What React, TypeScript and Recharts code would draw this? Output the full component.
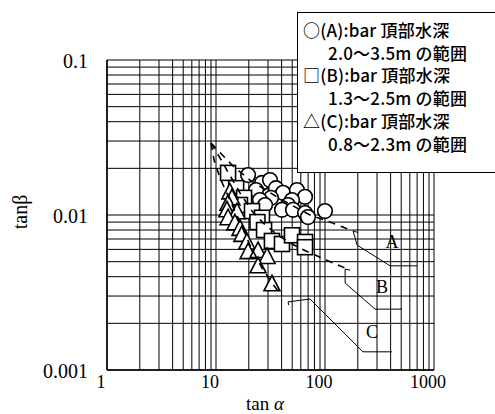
import React from 'react';
import { ComposedChart, XAxis, YAxis, Scatter, ReferenceLine } from 'recharts';

// (A) bar 頂部水深 2.0～3.5m
const seriesA = [
  { x: 19.7, y: 0.0181 }, { x: 26.4, y: 0.0161 }, { x: 31.3, y: 0.0168 }, { x: 23.3, y: 0.0145 },
  { x: 35.5, y: 0.0149 }, { x: 41.2, y: 0.0139 }, { x: 55.3, y: 0.0145 }, { x: 65.6, y: 0.0131 },
  { x: 49.8, y: 0.0125 }, { x: 32.0, y: 0.0129 }, { x: 25.3, y: 0.0125 }, { x: 28.2, y: 0.0116 },
  { x: 45.8, y: 0.0116 }, { x: 40.3, y: 0.0108 }, { x: 50.9, y: 0.0108 }, { x: 65.6, y: 0.0103 },
  { x: 69.8, y: 0.0097 }, { x: 100, y: 0.0106 },
];

// (B) bar 頂部水深 1.3～2.5m
const seriesB = [
  { x: 12.9, y: 0.0187 }, { x: 15.3, y: 0.0149 }, { x: 18.1, y: 0.0129 }, { x: 16.6, y: 0.0116 },
  { x: 21.4, y: 0.0106 }, { x: 26.4, y: 0.0096 }, { x: 24.0, y: 0.0090 }, { x: 27.6, y: 0.0080 },
  { x: 32.6, y: 0.0068 }, { x: 40.3, y: 0.0065 }, { x: 49.8, y: 0.0074 }, { x: 65.6, y: 0.0067 },
  { x: 65.6, y: 0.0062 },
];

// (C) bar 頂部水深 0.8～2.3m
const seriesC = [
  { x: 13.4, y: 0.0141 }, { x: 14.0, y: 0.0129 }, { x: 12.9, y: 0.0119 }, { x: 12.6, y: 0.0108 },
  { x: 15.6, y: 0.0105 }, { x: 12.9, y: 0.0096 }, { x: 14.9, y: 0.0089 }, { x: 16.6, y: 0.0082 },
  { x: 17.3, y: 0.0075 }, { x: 19.2, y: 0.0067 }, { x: 19.7, y: 0.0058 }, { x: 24.3, y: 0.0059 },
  { x: 29.4, y: 0.0054 }, { x: 24.3, y: 0.0047 }, { x: 32.6, y: 0.0036 },
];

// dashed envelope curves
const curveA = [
  { x: 9.0, y: 0.0291 }, { x: 14.3, y: 0.0207 }, { x: 20.5, y: 0.0168 }, { x: 38.7, y: 0.0127 },
  { x: 72.8, y: 0.0100 }, { x: 111, y: 0.0090 }, { x: 181, y: 0.0079 },
];
const curveB = [
  { x: 9.0, y: 0.0291 }, { x: 10.9, y: 0.0233 }, { x: 12.9, y: 0.0189 }, { x: 16.6, y: 0.0139 },
  { x: 21.4, y: 0.0106 }, { x: 27.0, y: 0.0089 }, { x: 37.0, y: 0.0074 }, { x: 49.8, y: 0.0065 },
  { x: 65.5, y: 0.0059 }, { x: 104, y: 0.0051 }, { x: 153, y: 0.00455 },
];
const curveC = [
  { x: 9.0, y: 0.0291 }, { x: 9.6, y: 0.0226 }, { x: 10.9, y: 0.0173 }, { x: 13.4, y: 0.0125 },
  { x: 16.6, y: 0.0090 }, { x: 20.5, y: 0.0064 }, { x: 26.4, y: 0.00455 }, { x: 32.6, y: 0.00364 },
  { x: 40.3, y: 0.0030 },
];

// leader lines to the curve names
const leaderA = [
  { x: 201, y: 0.0077 }, { x: 181, y: 0.0079 }, { x: 197, y: 0.0064 }, { x: 395, y: 0.0047 }, { x: 698, y: 0.0047 },
];
const leaderB = [
  { x: 170, y: 0.00441 }, { x: 153, y: 0.00448 }, { x: 153, y: 0.00364 }, { x: 288, y: 0.00247 }, { x: 509, y: 0.00247 },
];
const leaderC = [
  { x: 46.5, y: 0.00262 }, { x: 45.8, y: 0.00275 }, { x: 72.8, y: 0.00287 }, { x: 223, y: 0.00131 }, { x: 412, y: 0.00131 },
];
const curveNames = [
  { x: 412, y: 0.0067, label: 'A' },
  { x: 333, y: 0.00343, label: 'B' },
  { x: 270, y: 0.00176, label: 'C' },
];

const xTicks = [1, 10, 100, 1000];
const yTicks = [0.001, 0.01, 0.1];
const xGrid = [1, 2, 3, 4, 5, 6, 7, 8, 9, 10, 20, 30, 40, 50, 60, 70, 80, 90, 100, 200, 300, 400, 500, 600, 700, 800, 900, 1000];
const yGrid = [
  0.001, 0.002, 0.003, 0.004, 0.005, 0.006, 0.007, 0.008, 0.009,
  0.01, 0.02, 0.03, 0.04, 0.05, 0.06, 0.07, 0.08, 0.09, 0.1,
];

const legendLines = [
  { text: '○(A):bar 頂部水深', indent: false },
  { text: '2.0～3.5m の範囲', indent: true },
  { text: '□(B):bar 頂部水深', indent: false },
  { text: '1.3～2.5m の範囲', indent: true },
  { text: '△(C):bar 頂部水深', indent: false },
  { text: '0.8～2.3m の範囲', indent: true },
];

const serif = '"Liberation Serif", "Times New Roman", serif';

const Circle = (p: any) => (
  <circle cx={p.cx} cy={p.cy} r={7.3} fill="#fff" stroke="#000" strokeWidth={1.6} />
);
const Square = (p: any) => (
  <rect x={p.cx - 7.5} y={p.cy - 7.5} width={15} height={15} fill="#fff" stroke="#000" strokeWidth={1.6} />
);
const Triangle = (p: any) => (
  <polygon
    points={`${p.cx},${p.cy - 8.5} ${p.cx - 8},${p.cy + 7} ${p.cx + 8},${p.cy + 7}`}
    fill="#fff" stroke="#000" strokeWidth={1.6}
  />
);
const Nothing = () => <g />;
const NameText = (p: any) => (
  <text x={p.cx} y={p.cy} dy={6} textAnchor="middle" fontFamily={serif} fontSize={18} fill="#000">
    {p.payload.label}
  </text>
);

const XTick = (props: any) => {
  const { x, y, payload } = props;
  return (
    <text x={x} y={y} dx={-6} dy={10} textAnchor="middle" fontFamily={serif} fontSize={18} fill="#000">
      {payload.value}
    </text>
  );
};
const YTick = (props: any) => {
  const { y, payload } = props;
  return (
    <text x={88} y={y} dy={8} textAnchor="end" fontFamily={serif} fontSize={20} fill="#000">
      {payload.value}
    </text>
  );
};

const dashed = { stroke: '#000', strokeWidth: 1.6, strokeDasharray: '7 6', fill: 'none' };
const thin = { stroke: '#000', strokeWidth: 1, fill: 'none' };

export default function App() {
  return (
    <div style={{ position: 'absolute', left: 0, top: 0, width: 495, height: 414, overflow: 'hidden', background: '#fff' }}>
      <ComposedChart width={495} height={414} margin={{ top: 60, right: 61, bottom: 0, left: 0 }}>
        <XAxis
          type="number" dataKey="x" scale="log" domain={[1, 1000]} ticks={xTicks}
          allowDataOverflow height={44} tick={<XTick />} tickLine={false}
          axisLine={{ stroke: '#000', strokeWidth: 1.5 }}
        />
        <YAxis
          type="number" dataKey="y" scale="log" domain={[0.001, 0.1]} ticks={yTicks}
          allowDataOverflow width={107} tick={<YTick />} tickLine={false}
          axisLine={{ stroke: '#000', strokeWidth: 1.5 }}
        />
        {xGrid.map((v) => (
          <ReferenceLine key={'gx' + v} x={v} stroke="#000" strokeWidth={1} />
        ))}
        {yGrid.map((v) => (
          <ReferenceLine key={'gy' + v} y={v} stroke="#000" strokeWidth={1} />
        ))}
        <Scatter data={seriesA} shape={<Circle />} isAnimationActive={false} />
        <Scatter data={seriesB} shape={<Square />} isAnimationActive={false} />
        <Scatter data={seriesC} shape={<Triangle />} isAnimationActive={false} />
        <Scatter data={curveA} line={dashed} lineType="joint" shape={<Nothing />} isAnimationActive={false} />
        <Scatter data={curveB} line={dashed} lineType="joint" shape={<Nothing />} isAnimationActive={false} />
        <Scatter data={curveC} line={dashed} lineType="joint" shape={<Nothing />} isAnimationActive={false} />
        <Scatter data={leaderA} line={thin} lineType="joint" shape={<Nothing />} isAnimationActive={false} />
        <Scatter data={leaderB} line={thin} lineType="joint" shape={<Nothing />} isAnimationActive={false} />
        <Scatter data={leaderC} line={thin} lineType="joint" shape={<Nothing />} isAnimationActive={false} />
        <Scatter data={curveNames} shape={<NameText />} isAnimationActive={false} />
      </ComposedChart>
      <div style={{ position: 'absolute', left: 0, top: 394, width: 530, textAlign: 'center', fontFamily: serif, fontSize: 19, lineHeight: '20px' }}>
        tan <span style={{ fontStyle: 'italic' }}>α</span>
      </div>
      <div style={{ position: 'absolute', left: 20, top: 212, transform: 'translate(-50%, -50%) rotate(-90deg)', fontFamily: serif, fontSize: 20, whiteSpace: 'nowrap' }}>
        tanβ
      </div>
      <div
        style={{
          position: 'absolute', left: 297, top: 12, width: 220, height: 161,
          border: '1.5px solid #000', background: '#fff', boxSizing: 'border-box',
          paddingTop: 6, fontFamily: '"Noto Sans CJK JP", "Noto Sans", sans-serif',
          fontSize: 17, fontWeight: 500, letterSpacing: 0.2, lineHeight: '22.7px', color: '#000',
        }}
      >
        {legendLines.map((l, i) => (
          <div key={i} style={{ paddingLeft: l.indent ? 30 : 5, whiteSpace: 'nowrap' }}>{l.text}</div>
        ))}
      </div>
    </div>
  );
}
